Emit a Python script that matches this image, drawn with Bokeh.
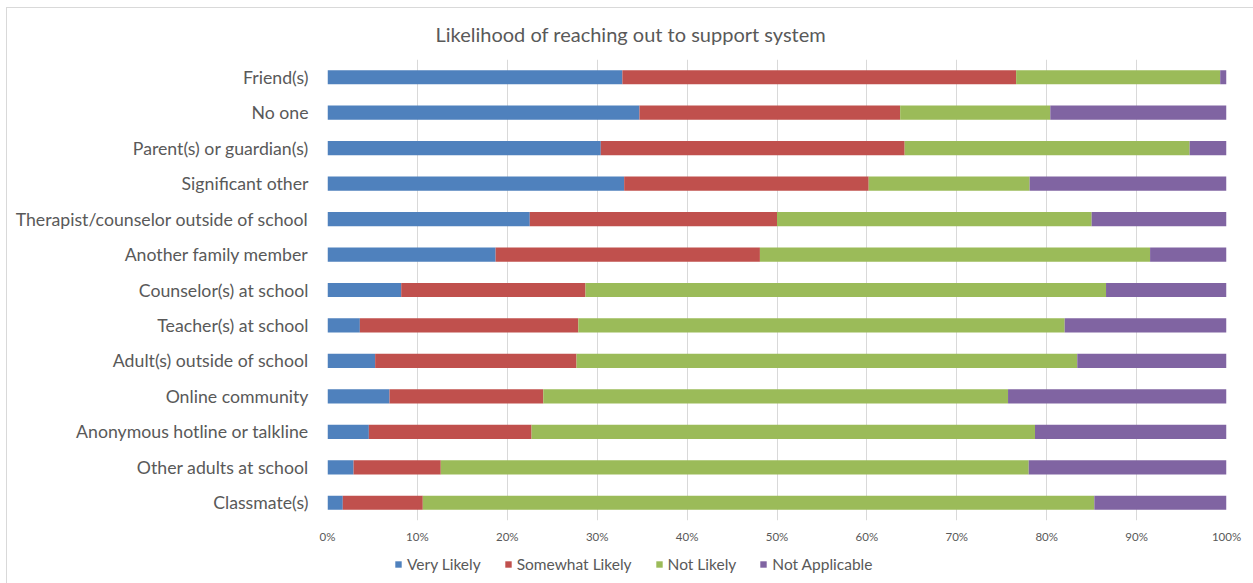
from bokeh.plotting import figure
from bokeh.layouts import column
from bokeh.models import (ColumnDataSource, FactorRange, Range1d, FixedTicker,
                          PrintfTickFormatter, Legend)
from bokeh.embed import file_html
from bokeh.resources import INLINE

categories = ["Friend(s)", "No one", "Parent(s) or guardian(s)", "Significant other",
              "Therapist/counselor outside of school", "Another family member",
              "Counselor(s) at school", "Teacher(s) at school", "Adult(s) outside of school",
              "Online community", "Anonymous hotline or talkline", "Other adults at school",
              "Classmate(s)"]
very_likely     = [32.8, 34.7, 30.4, 33.0, 22.5, 18.7, 8.2, 3.6, 5.3, 6.9, 4.6, 2.9, 1.7]
somewhat_likely = [43.8, 29.0, 33.8, 27.2, 27.5, 29.4, 20.5, 24.3, 22.4, 17.1, 18.1, 9.7, 8.9]
not_likely      = [22.7, 16.7, 31.7, 17.9, 35.0, 43.4, 57.9, 54.1, 55.7, 51.7, 56.0, 65.4, 74.7]
not_applicable  = [0.7, 19.6, 4.1, 21.9, 15.0, 8.5, 13.4, 18.0, 16.6, 24.3, 21.3, 22.0, 14.7]
series = ["Very Likely", "Somewhat Likely", "Not Likely", "Not Applicable"]
colors = ["#4F81BD", "#C0504D", "#9BBB59", "#8064A2"]
x_ticks = [0, 10, 20, 30, 40, 50, 60, 70, 80, 90, 100]
title_text = "Likelihood of reaching out to support system"

source = ColumnDataSource(dict(cat=categories, **{
    series[0]: very_likely, series[1]: somewhat_likely,
    series[2]: not_likely, series[3]: not_applicable}))

TXT = "#595959"
FONT = "Lato"

# ---- main chart ----
p = figure(width=1246, height=540, output_backend="svg", toolbar_location=None,
           y_range=FactorRange(*reversed(categories)), x_range=Range1d(0, 100),
           min_border_left=320, min_border_right=27, min_border_top=51, min_border_bottom=28)

p.hbar_stack(series, y="cat", height=0.4, color=colors, source=source, line_color=None)

p.outline_line_color = None
p.background_fill_color = "white"
p.border_fill_color = "white"

p.title.text = title_text
p.title.align = "left"
p.title.vertical_align = "top"
p.title.offset = 108
p.title.text_font = FONT
p.title.text_font_size = "20px"
p.title.text_font_style = "normal"
p.title.text_color = TXT
p.title.standoff = 24

p.xaxis.ticker = FixedTicker(ticks=x_ticks)
p.xaxis.formatter = PrintfTickFormatter(format="%d%%")
p.xaxis.axis_line_color = None
p.xaxis.major_tick_line_color = None
p.xaxis.minor_tick_line_color = None
p.xaxis.major_label_text_font = FONT
p.xaxis.major_label_text_font_size = "11.5px"
p.xaxis.major_label_text_color = TXT
p.xaxis.major_label_standoff = 3

p.yaxis.axis_line_color = None
p.yaxis.major_tick_line_color = None
p.yaxis.minor_tick_line_color = None
p.yaxis.major_label_text_font = FONT
p.yaxis.major_label_text_font_size = "17.7px"
p.yaxis.major_label_text_color = TXT
p.yaxis.major_label_standoff = 13

p.xgrid.grid_line_color = "#D9D9D9"
p.xgrid.grid_line_width = 1
p.ygrid.grid_line_color = None

# ---- legend strip ----
q = figure(width=1246, height=35, output_backend="svg", toolbar_location=None,
           x_range=Range1d(0, 1), y_range=Range1d(0, 1),
           min_border_left=0, min_border_right=0, min_border_top=0, min_border_bottom=0)
q.axis.visible = False
q.grid.visible = False
q.outline_line_color = None
q.background_fill_color = "white"
q.border_fill_color = "white"
# one zero-width key bar per series, kept outside the strip's visible range
key_src = ColumnDataSource(dict(y=[-1.0], left=[0.0], right=[0.0]))
legend_renderers = [q.hbar(y="y", left="left", right="right", height=0.4, color=c,
                           line_color=None, source=key_src) for c in colors]
lg = Legend(items=[(s, [r]) for s, r in zip(series, legend_renderers)])
lg.orientation = "horizontal"
lg.location = (67, 10)
lg.border_line_color = None
lg.background_fill_alpha = 0
lg.padding = 0
lg.margin = 0
lg.spacing = 23
lg.glyph_width = 8
lg.glyph_height = 8
lg.label_standoff = 5
lg.label_height = 9
lg.label_text_font = FONT
lg.label_text_font_size = "15.5px"
lg.label_text_color = TXT
lg.label_text_baseline = "middle"
q.add_layout(lg, "center")

layout = column(p, q, spacing=0)
layout.styles = {"margin-left": "6px", "margin-top": "7px",
                 "border-left": "1px solid #D9D9D9", "border-top": "1px solid #D9D9D9"}

open("out.html", "w").write(file_html(layout, INLINE))
